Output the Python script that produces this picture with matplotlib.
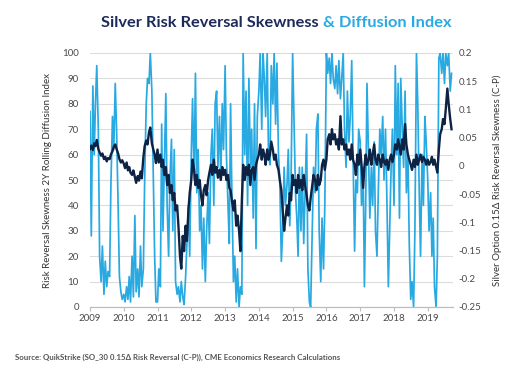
import numpy as np
import pandas as pd
import matplotlib
matplotlib.use("Agg")
import matplotlib.pyplot as plt
import matplotlib.dates as mdates

plt.rcParams['font.family'] = ['Lato', 'DejaVu Sans']

# semi-monthly readings (1st and 15th of each month), Jan 2009 - Sep 2019
# risk reversal skewness 2Y rolling diffusion index (left axis)
d2009 = [77, 28, 87, 60, 80, 95, 70, 20, 10, 24, 5, 18, 8, 14, 12, 48, 75, 62, 88, 70, 40, 12, 6, 3]
d2010 = [5, 2, 8, 3, 12, 2, 20, 4, 36, 6, 15, 4, 24, 8, 15, 50, 80, 90, 88, 100, 85, 55, 20, 2]
d2011 = [2, 15, 8, 72, 30, 55, 84, 40, 20, 50, 66, 30, 62, 10, 5, 8, 2, 10, 4, 1, 12, 25, 40, 20]
d2012 = [60, 82, 50, 92, 45, 62, 30, 40, 15, 35, 10, 30, 45, 25, 60, 70, 40, 80, 85, 55, 75, 50, 80, 62]
d2013 = [95, 60, 40, 25, 80, 45, 10, 20, 2, 15, 0, 8, 5, 100, 60, 85, 40, 90, 55, 70, 35, 80, 23, 75]
d2014 = [85, 100, 70, 100, 90, 75, 100, 60, 56, 95, 80, 100, 72, 96, 60, 50, 18, 30, 55, 40, 48, 62, 32, 50]
d2015 = [100, 75, 45, 35, 20, 55, 30, 55, 25, 45, 68, 15, 2, 0, 30, 55, 45, 70, 76, 30, 10, 35, 15, 40]
d2016 = [100, 92, 98, 88, 100, 90, 86, 95, 84, 97, 82, 90, 100, 70, 55, 85, 65, 75, 97, 60, 22, 50, 45, 70]
d2017 = [65, 40, 55, 8, 40, 88, 60, 35, 55, 40, 65, 30, 20, 45, 70, 60, 75, 50, 70, 45, 8, 30, 55, 70]
d2018 = [40, 95, 60, 88, 35, 90, 70, 55, 85, 45, 60, 25, 3, 10, 0, 30, 100, 80, 45, 20, 60, 40, 75, 65]
d2019 = [50, 30, 45, 20, 35, 8, 0, 20, 98, 100, 92, 100, 88, 100, 95, 100, 85, 92]

# silver option 0.15 delta risk reversal skewness, C-P (right axis)
s2009 = [0.030, 0.036, 0.028, 0.040, 0.035, 0.046, 0.030, 0.024, 0.018, 0.022, 0.012, 0.016,
         0.008, 0.014, 0.012, 0.020, 0.026, 0.034, 0.038, 0.030, 0.022, 0.012, 0.006, 0.010]
s2010 = [0.004, -0.004, 0.006, -0.008, -0.002, -0.012, -0.016, -0.008, -0.020, -0.030, -0.018, -0.026,
         -0.010, -0.022, 0.015, 0.035, 0.045, 0.038, 0.060, 0.068, 0.040, 0.030, 0.020, 0.005]
s2011 = [0.029, 0.006, 0.020, -0.002, 0.011, -0.016, -0.002, -0.034, -0.016, -0.048, -0.034, -0.061,
         -0.048, -0.079, -0.070, -0.106, -0.160, -0.182, -0.124, -0.151, -0.106, -0.133, -0.079, -0.048]
s2012 = [-0.025, 0.011, -0.007, -0.034, -0.016, -0.039, -0.025, -0.052, -0.070, -0.043, -0.034, -0.052,
         -0.025, -0.012, 0.002, -0.016, 0.011, -0.012, -0.002, -0.021, -0.007, -0.025, -0.002, -0.016]
s2013 = [-0.007, -0.025, -0.016, -0.039, -0.043, -0.061, -0.079, -0.061, -0.106, -0.088, -0.115, -0.151,
         -0.061, 0.002, -0.025, -0.002, -0.016, 0.002, -0.034, -0.007, -0.002, -0.025, 0.002, 0.011]
s2014 = [0.020, 0.038, 0.011, 0.029, 0.020, 0.002, 0.029, 0.011, 0.020, 0.043, 0.029, 0.011,
         0.020, 0.002, -0.007, -0.025, -0.043, -0.079, -0.115, -0.093, -0.070, -0.088, -0.048, -0.061]
s2015 = [-0.016, -0.034, -0.025, -0.048, -0.016, -0.039, -0.025, -0.043, -0.016, -0.034, -0.052, -0.070,
         -0.079, -0.057, -0.034, -0.016, -0.025, -0.043, -0.016, -0.034, -0.025, 0.002, 0.011, -0.007]
s2016 = [0.011, 0.047, 0.056, 0.038, 0.065, 0.047, 0.056, 0.038, 0.047, 0.029, 0.088, 0.038,
         0.047, 0.029, 0.038, 0.020, 0.029, 0.011, 0.038, 0.011, 0.002, -0.016, 0.020, 0.002]
s2017 = [0.029, 0.002, -0.039, -0.002, 0.020, 0.002, 0.011, 0.029, 0.002, 0.020, 0.038, 0.011,
         0.002, 0.020, 0.011, -0.002, 0.020, 0.007, 0.002, 0.011, -0.007, 0.011, 0.020, 0.007]
s2018 = [0.020, 0.038, 0.029, 0.047, 0.034, 0.020, 0.047, 0.029, 0.074, 0.038, 0.020, 0.011,
         0.002, -0.007, 0.011, -0.002, 0.020, 0.002, 0.011, 0.020, 0.007, 0.016, 0.011, 0.002]
s2019 = [0.011, 0.002, 0.007, 0.016, 0.002, 0.011, -0.002, -0.012, 0.029, 0.056, 0.065, 0.083,
         0.074, 0.101, 0.137, 0.110, 0.083, 0.065]

right_ticks = [-0.25, -0.2, -0.15, -0.1, -0.05, 0, 0.05, 0.1, 0.15, 0.2]
right_labels = ["-0.25", "-0.2", "-0.15", "-0.1", "-0.05", "0", "0.05", "0.1", "0.15", "0.2"]

diffusion = d2009 + d2010 + d2011 + d2012 + d2013 + d2014 + d2015 + d2016 + d2017 + d2018 + d2019
skew = s2009 + s2010 + s2011 + s2012 + s2013 + s2014 + s2015 + s2016 + s2017 + s2018 + s2019
dates = pd.date_range("2009-01-01", periods=len(diffusion), freq="SMS")

LIGHT = "#29a9e1"
DARK = "#0e2244"
TITLE_DARK = "#1b2a59"
TXT = "#4a4a4a"

fig = plt.figure(figsize=(5.05, 3.68), dpi=100)
ax = fig.add_axes([90/505, 1-307/368, 363/505, 254/368])
ax2 = ax.twinx()

ax.plot(dates, diffusion, color=LIGHT, lw=1.25)
ax2.plot(dates, skew, color=DARK, lw=1.7)

ax.set_ylim(0, 100)
ax.set_yticks(range(0, 101, 10))
ax2.set_ylim(-0.25, 0.2)
ax2.set_yticks(right_ticks)
ax2.set_yticklabels(right_labels)
ax.set_xlim(pd.Timestamp("2009-01-01"), pd.Timestamp("2019-10-01"))
ax.xaxis.set_major_locator(mdates.YearLocator())
ax.xaxis.set_major_formatter(mdates.DateFormatter("%Y"))

ax.grid(axis="y", color="#dcdcdc", lw=0.8)
ax.set_axisbelow(True)
for a in (ax, ax2):
    for s in ("top", "left", "right"):
        a.spines[s].set_visible(False)
    a.spines["bottom"].set_color("#bdbdbd")
    a.spines["bottom"].set_linewidth(0.8)
ax.tick_params(axis="y", length=0, pad=8, labelsize=7, labelcolor=TXT)
ax2.tick_params(axis="y", length=0, pad=4, labelsize=7, labelcolor=TXT)
ax.tick_params(axis="x", length=3, color="#bdbdbd", width=0.8, pad=2, labelsize=7, labelcolor=TXT)

ax.set_ylabel("Risk Reversal Skewness 2Y Rolling Diffusion Index", fontsize=7, color="#333333")
ax.yaxis.set_label_coords(-0.105, 0.5)
ax2.set_ylabel("Silver Option 0.15Δ Risk Reversal Skewness (C-P)", fontsize=7, color="#333333",
               rotation=90)
ax2.yaxis.set_label_coords(1.11, 0.5)

fig.text(319/505, 1-27/368, "Silver Risk Reversal Skewness", ha="right", va="baseline",
         fontsize=11.8, fontweight="bold", color=TITLE_DARK)
fig.text(323/505, 1-27/368, "& Diffusion Index", ha="left", va="baseline",
         fontsize=11.8, fontweight="bold", color=LIGHT)
fig.text(15/505, 1-360/368, "Source: QuikStrike (SO_30 0.15Δ Risk Reversal (C-P)), CME Economics Research Calculations",
         ha="left", va="baseline", fontsize=5.7, fontweight="bold", color="#555555")

fig.savefig("out.png", dpi=100, facecolor="white")
